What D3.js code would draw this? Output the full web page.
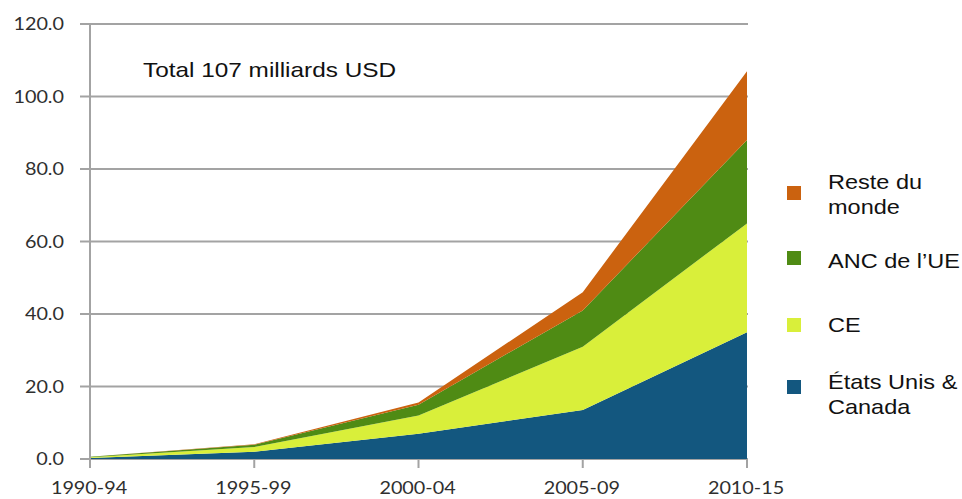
<!DOCTYPE html>
<html>
<head>
<meta charset="utf-8">
<script src="https://cdn.jsdelivr.net/npm/d3@7"></script>
<style>
  html, body { margin: 0; padding: 0; background: #fff; }
  svg { display: block; }
</style>
</head>
<body>
<svg id="chart" width="962" height="499"></svg>
<script>
// Périodes (axe des x)
const periods = ["1990-94", "1995-99", "2000-04", "2005-09", "2010-15"];
// Montants par région, milliards USD
const usCanada = [0.3, 2.0, 7.0, 13.5, 35];
const ce       = [0.2, 1.3, 5.0, 17.5, 30];
const ancUE    = [0.1, 0.6, 3.0, 10.0, 23];
const resteMonde = [0.0, 0.2, 0.6, 5.0, 19];
// Graduations de l'axe des y
const yTicks = [0, 20, 40, 60, 80, 100, 120];

const seriesKeys = ["usCanada", "ce", "ancUE", "resteMonde"];
const seriesLabels = {
  usCanada: ["États Unis &", "Canada"],
  ce: ["CE"],
  ancUE: ["ANC de l\u2019UE"],
  resteMonde: ["Reste du", "monde"]
};
const colors = {
  usCanada: "#13577f",
  ce: "#d9ef3a",
  ancUE: "#4f8b14",
  resteMonde: "#cb620f"
};

const rows = periods.map((p, i) => ({
  period: p,
  usCanada: usCanada[i],
  ce: ce[i],
  ancUE: ancUE[i],
  resteMonde: resteMonde[i]
}));

const svg = d3.select("#chart");
const x = d3.scalePoint().domain(periods).range([90, 747]);
const y = d3.scaleLinear().domain([0, 120]).range([459, 24]);

const gridColor = "#a3a3a3";
const tickFont = "Lato, 'Open Sans', sans-serif";
const sx = 1.1;

// Lignes de quadrillage horizontales
svg.append("g")
  .selectAll("line")
  .data(yTicks)
  .join("line")
  .attr("x1", 80)
  .attr("x2", 748)
  .attr("y1", d => y(d))
  .attr("y2", d => y(d))
  .attr("stroke", gridColor)
  .attr("stroke-width", 2);

// Aires empilées
const stack = d3.stack().keys(seriesKeys);
const layers = stack(rows);
const area = d3.area()
  .x(d => x(d.data.period))
  .y0(d => y(d[0]))
  .y1(d => y(d[1]))
  .curve(d3.curveLinear);

svg.append("g")
  .selectAll("path")
  .data(layers)
  .join("path")
  .attr("d", area)
  .attr("fill", d => colors[d.key]);

// Axe vertical
svg.append("line")
  .attr("x1", 90).attr("x2", 90)
  .attr("y1", y(120)).attr("y2", y(0))
  .attr("stroke", gridColor)
  .attr("stroke-width", 2);

// Petites graduations sous l'axe des x
svg.append("g")
  .selectAll("line")
  .data(periods)
  .join("line")
  .attr("x1", d => x(d))
  .attr("x2", d => x(d))
  .attr("y1", y(0))
  .attr("y2", y(0) + 9)
  .attr("stroke", gridColor)
  .attr("stroke-width", 2);

// Étiquettes de l'axe des y
svg.append("g")
  .selectAll("text")
  .data(yTicks)
  .join("text")
  .attr("transform", d => `translate(64,${y(d) + 6}) scale(${sx},1)`)
  .attr("text-anchor", "end")
  .attr("font-family", tickFont)
  .attr("font-size", 18)
  .attr("fill", "#2f2f2f")
  .text(d => d3.format(".1f")(d));

// Étiquettes de l'axe des x
svg.append("g")
  .selectAll("text")
  .data(periods)
  .join("text")
  .attr("transform", d => `translate(${x(d) - 1},494) scale(${sx},1)`)
  .attr("text-anchor", "middle")
  .attr("font-family", tickFont)
  .attr("font-size", 18)
  .attr("fill", "#2f2f2f")
  .text(d => d);

// Titre : total
svg.append("rect")
  .attr("x", 122).attr("y", 50)
  .attr("width", 280).attr("height", 45)
  .attr("fill", "#fff");
svg.append("text")
  .attr("transform", `translate(143,77) scale(1.16,1)`)
  .attr("font-family", "'Liberation Sans', Arial, sans-serif")
  .attr("font-size", 21)
  .attr("fill", "#111")
  .text("Total 107 milliards USD");

// Légende
const legendItems = [
  { key: "resteMonde", sq: 193, base: 189 },
  { key: "ancUE", sq: 258, base: 268 },
  { key: "ce", sq: 325, base: 332 },
  { key: "usCanada", sq: 387, base: 389 }
];
const lg = svg.append("g");
legendItems.forEach(it => {
  lg.append("rect")
    .attr("x", 787).attr("y", it.sq - 7)
    .attr("width", 14).attr("height", 14)
    .attr("fill", colors[it.key]);
  seriesLabels[it.key].forEach((line, j) => {
    lg.append("text")
      .attr("transform", `translate(828,${it.base + j * 25}) scale(1.12,1)`)
      .attr("font-family", "'Liberation Sans', Arial, sans-serif")
      .attr("font-size", 21)
      .attr("fill", "#111")
      .text(line);
  });
});
</script>
</body>
</html>
